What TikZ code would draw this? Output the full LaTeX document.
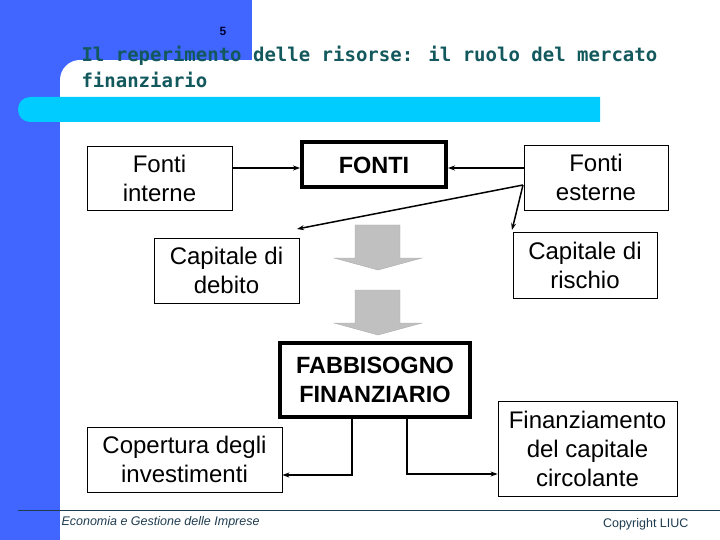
\documentclass[tikz,border=0pt]{standalone}
\usepackage{fontspec}
\setmainfont{Liberation Sans}
\newfontfamily\titlefont{DejaVu Sans Mono}
\usetikzlibrary{arrows.meta}
\definecolor{slideblue}{RGB}{64,102,255}
\definecolor{slidecyan}{RGB}{0,204,255}
\definecolor{titleteal}{RGB}{18,88,92}
\definecolor{footcol}{RGB}{30,60,80}
\definecolor{arrowgray}{RGB}{192,192,192}
\tikzset{
  box/.style={draw=black, line width=0.8pt, fill=white, align=center, inner sep=2pt,
    font=\fontsize{24}{29}\selectfont},
  bigbox/.style={draw=black, line width=4pt, fill=white, align=center, inner sep=2pt,
    font=\fontsize{23.5}{29}\selectfont\bfseries},
  arr/.style={line width=1.5pt, -{Stealth[length=7pt,width=5pt]}},
  grayarrow/.style={fill=arrowgray, draw=arrowgray!90!black, line width=0.4pt}
}
\begin{document}
\begin{tikzpicture}[x=1pt,y=-1pt]
\useasboundingbox (0,0) rectangle (720,540);
% background
\fill[slideblue] (0,0) rectangle (252,60);
\fill[slideblue] (0,0) rectangle (60,540);
\fill[slideblue] (60,60) rectangle (80,80);
\fill[white] (80,80) circle[radius=20];
\fill[slidecyan] (600,97) [rounded corners=12] -- (18,97) -- (18,122) [sharp corners] -- (600,122) -- cycle;
% page number and title
\node[font=\fontsize{12}{14}\selectfont\bfseries, text=black!80!blue] (pn) at (223,31) {5};
\node[anchor=base west, text=titleteal, font=\titlefont\fontsize{19}{26}\selectfont\bfseries] (t1) at (78,62) {Il reperimento delle risorse: il ruolo del mercato};
\node[anchor=base west, text=titleteal, font=\titlefont\fontsize{19}{26}\selectfont\bfseries] (t2) at (78,88) {finanziario};
% boxes
\node[box, minimum width=145, minimum height=64] (fi) at (159.5,178) {Fonti\\interne};
\node[bigbox, minimum width=144, minimum height=45] (fonti) at (374,165) {FONTI};
\node[box, minimum width=144, minimum height=65] (fe) at (596,177.5) {Fonti\\esterne};
\node[box, minimum width=145, minimum height=65] (cd) at (226.5,270.5) {Capitale di\\debito};
\node[box, minimum width=144, minimum height=66] (cr) at (585,265) {Capitale di\\rischio};
\node[bigbox, minimum width=190, minimum height=74] (fab) at (375,380) {FABBISOGNO\\FINANZIARIO};
\node[box, minimum width=195, minimum height=65] (cop) at (184.5,459.5) {Copertura degli\\investimenti};
\node[box, minimum width=179, minimum height=95] (fin) at (587.5,448.5) {Finanziamento\\del capitale\\circolante};
% gray block arrows
\draw[grayarrow] (355,225) -- (400,225) -- (400,258) -- (422,258) -- (378,270) -- (334,258) -- (355,258) -- cycle;
\draw[grayarrow] (355,290) -- (400,290) -- (400,323) -- (422,323) -- (378,335) -- (334,323) -- (355,323) -- cycle;
% connectors
\coordinate (fesplit) at (523,185);
\coordinate (cdtip) at (297,229);
\coordinate (crtip) at (512,230);
\draw[arr] (fi.east |- 0,168) -- (fonti.west |- 0,168);
\draw[arr] (fe.west |- 0,168) -- (fonti.east |- 0,168);
\draw[arr] (fesplit) -- (cdtip);
\draw[arr] (fesplit) -- (crtip);
\coordinate (fabL) at (352,417);
\coordinate (fabR) at (407,417);
\draw[arr] (fabL) -- (352,475) -- (cop.east |- 0,475);
\draw[arr] (fabR) -- (407,474) -- (fin.west |- 0,474);
% footer
\draw[footcol, line width=0.8pt] (18,510) -- (720,510);
\node[anchor=west, text=footcol, font=\fontsize{12.5}{14}\selectfont\itshape] (foot1) at (58,522) {Economia e Gestione delle Imprese};
\node[anchor=east, text=footcol, font=\fontsize{12.5}{14}\selectfont] (foot2) at (692,524) {Copyright LIUC};
\end{tikzpicture}
\end{document}
